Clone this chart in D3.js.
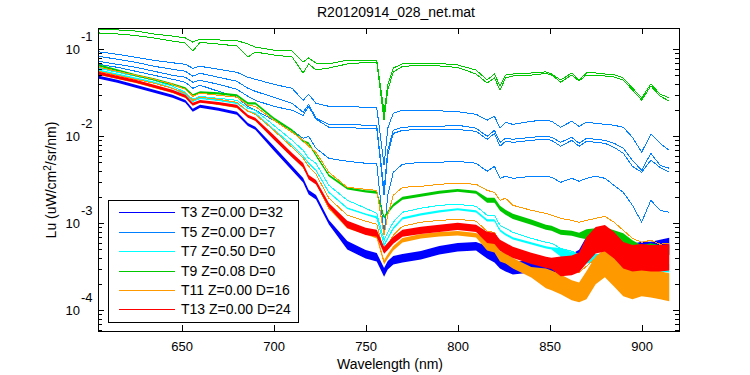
<!DOCTYPE html>
<html>
<head>
<meta charset="utf-8">
<script src="https://cdn.jsdelivr.net/npm/d3@7"></script>
<style>
body { margin: 0; background: #fff; }
svg { font-family: "Liberation Sans", Arial, sans-serif; }
</style>
</head>
<body>
<svg id="chart" width="750" height="375"></svg>
<script>
// wavelength grid (nm)
const wavelength = [605,615,625,635,645,652,656,660,670,680,686,690,700,710,716,719,723,730,740,750,
	756,760,762,765,770,780,790,800,810,816,820,823,826,830,840,848,851,856,862,866,
	870,875,880,885,890,895,900,905,910,915]

// Lu values, one array per visible trace
const t3 = [0.0477,0.0429,0.0376,0.0329,0.0288,0.0252,0.0199,0.0221,0.0204,0.0184,
	0.0137,0.0124,0.00728,0.00429,0.00312,0.00227,0.00199,0.00103,0.000559,0.00044,
	0.000407,0.000273,0.000329,0.000376,0.000396,0.000429,0.00049,0.00053,0.000544,0.000464,
	0.000418,0.000356,0.000329,0.000304,0.00032,0.000304,0.000329,0.000329,0.000356,0.000396,
	0.000559,0.000672,0.000638,0.00049,0.000429,0.000464,0.00049,0.00049,0.000516,0.000544]
const t3Spread = [1.04,1.04,1.04,1.04,1.04,1.04,1.04,1.04,1.04,1.04,1.04,1.04,
	1.06,1.06,1.06,1.06,1.06,1.06,
	1.12,1.12,1.12,1.12,1.12,1.12,1.12,1.12,1.12,1.12,1.12,
	1.18,1.18,1.18,1.18,1.18,1.18,1.18,1.18,
	1.25,1.25,1.25,1.25,1.25,1.25,1.25,1.25,1.25,1.25,1.25,1.25,1.25]

const t5a = [0.0936,0.0876,0.0809,0.0747,0.070,0.0672,0.0605,0.0638,0.0589,0.0544,
	0.0477,0.0452,0.0396,0.0356,0.0259,0.0304,0.0239,0.0221,0.0221,0.0215,
	0.0215,0.00464,0.0124,0.0184,0.0199,0.0199,0.0196,0.0192,0.0179,0.0153,
	0.0170,0.0124,0.0145,0.0137,0.0149,0.0153,0.0149,0.0127,0.0149,0.0130,
	0.0145,0.0141,0.0137,0.0134,0.0127,0.00974,0.00655,0.0106,0.00831,0.0069]
const t5b = [0.0831,0.0768,0.0709,0.0638,0.0589,0.0559,0.049,0.053,0.0477,0.0429,
	0.0356,0.0329,0.0281,0.0239,0.0189,0.0233,0.0161,0.0137,0.0137,0.0134,
	0.0134,0.00239,0.0069,0.0117,0.0127,0.0130,0.0130,0.0134,0.0124,0.0100,
	0.0117,0.00853,0.00948,0.00924,0.00974,0.0100,0.00974,0.00853,0.00974,0.00831,
	0.00948,0.00924,0.0090,0.00831,0.00728,0.0053,0.00407,0.00638,0.00464,0.00429]
const t5c = [0.0728,0.0672,0.0621,0.0559,0.0503,0.0477,0.0418,0.044,0.0396,0.0347,
	0.0288,0.0259,0.0221,0.0199,0.0174,0.0221,0.0157,0.0127,0.0125,0.0124,
	0.0124,0.0021,0.00605,0.0108,0.0117,0.0120,0.0120,0.0120,0.0114,0.00924,
	0.0108,0.00768,0.00876,0.00853,0.0090,0.00924,0.0090,0.00768,0.0090,0.00768,
	0.00876,0.00853,0.00831,0.00747,0.00638,0.00452,0.00386,0.0053,0.0044,0.00386]
const t5d = [0.0672,0.0621,0.0559,0.0503,0.0452,0.0418,0.0356,0.0386,0.0329,0.0281,
	0.0221,0.0199,0.0153,0.0117,0.00948,0.0100,0.00728,0.00559,0.00516,0.0049,
	0.0049,0.000728,0.0021,0.00386,0.00477,0.00503,0.00503,0.00516,0.0049,0.00396,
	0.00452,0.00329,0.00347,0.00329,0.00347,0.00347,0.00338,0.00296,0.00329,0.00304,
	0.00329,0.00347,0.00329,0.00273,0.00227,0.00161,0.00103,0.00184,0.00141,0.00134]

const t7a = [0.0605,0.0544,0.049,0.044,0.0376,0.032,0.0266,0.0288,0.0273,0.0259,
	0.021,0.0199,0.0134,0.009,0.0069,0.00559,0.0049,0.00273,0.00184,0.00149,
	0.0013,0.000638,0.000788,0.00103,0.00134,0.00149,0.00161,0.00165,0.00157,0.00124,
	0.00124,0.000948,0.000876,0.000788,0.000672,0.000605,0.000589,0.000516,0.000477,0.00044,
	0.000429,0.00044,0.000429,0.000396,0.000356,0.000347,0.000356,0.000356,0.000356,0.000347]
const t7b = [0.0574,0.0516,0.0464,0.0418,0.0356,0.0304,0.0252,0.0273,0.0259,0.0239,
	0.0194,0.0184,0.012,0.00788,0.00589,0.0049,0.00407,0.00227,0.00149,0.00127,
	0.00117,0.000559,0.000672,0.000876,0.00114,0.00127,0.00137,0.00145,0.00137,0.00108,
	0.00108,0.000831,0.000747,0.000672,0.000589,0.00053,0.000516,0.000464,0.000418,0.000396,
	0.000386,0.000396,0.000396,0.000356,0.000329,0.000312,0.00032,0.00032,0.000312,0.000304]
const t7bSpread = [1.02,1.02,1.02,1.02,1.02,1.02,1.02,1.02,1.02,1.02,1.02,1.02,1.02,1.02,1.02,1.02,1.02,1.02,1.02,1.02,
	1.03,1.03,1.03,1.03,1.03,1.03,1.03,1.03,1.03,1.03,1.03,1.03,1.03,1.03,1.03,1.03,1.03,
	1.12,1.12,1.12,1.12,1.12,1.12,1.12,1.12,1.12,1.12,1.12,1.12,1.12]

const t9a = [0.171,0.167,0.162,0.150,0.142,0.135,0.121,0.131,0.128,0.126,
	0.115,0.106,0.098,0.0956,0.0715,0.0794,0.0696,0.0678,0.0753,0.0753,
	0.0743,0.019,0.0389,0.061,0.0678,0.0696,0.0687,0.066,0.0578,0.0444,
	0.052,0.0379,0.0506,0.052,0.0534,0.055,0.052,0.0444,0.0534,0.0444,
	0.0534,0.0534,0.052,0.0513,0.0468,0.0359,0.0276,0.0399,0.0306,0.0276]
const t9b = [0.154,0.150,0.144,0.135,0.1245,0.118,0.0956,0.120,0.115,0.109,
	0.0816,0.0931,0.086,0.0816,0.0534,0.0678,0.0578,0.0610,0.0678,0.0705,
	0.0715,0.0154,0.034,0.055,0.0634,0.066,0.0643,0.0618,0.052,0.041,
	0.0468,0.034,0.0468,0.0493,0.0506,0.0527,0.0506,0.042,0.0506,0.0432,
	0.0506,0.0506,0.0493,0.048,0.0444,0.034,0.0261,0.0379,0.029,0.0254]
const t9c = [0.0655,0.0574,0.0503,0.0452,0.0396,0.0356,0.0296,0.032,0.0312,0.0296,
	0.0239,0.0239,0.0161,0.0117,0.0088,0.0083,0.00605,0.00356,0.00252,0.00233,
	0.00227,0.00117,0.00134,0.00161,0.00194,0.0021,0.00227,0.00239,0.00227,0.00184,
	0.00184,0.00149,0.00134,0.0012,0.00103,0.00090,0.000876,0.000788,0.000768,0.000728,
	0.000747,0.000768,0.000788,0.000728,0.000672,0.000559,0.00049,0.000516,0.00049,0.00049]
const t9cSpread = [1.03,1.03,1.03,1.03,1.03,1.03,1.03,1.03,1.03,1.03,1.03,1.03,1.03,1.03,1.03,1.03,1.03,1.03,1.03,1.03,
	1.04,1.04,1.04,1.04,1.04,1.04,1.04,1.04,1.04,
	1.07,1.07,1.07,1.07,1.07,1.07,1.07,1.07,1.07,1.07,1.07,
	1.14,1.14,1.14,1.14,1.14,1.14,1.14,1.14,1.14,1.14]

const t11a = [0.0621,0.0559,0.0503,0.0452,0.0396,0.0347,0.0288,0.0312,0.0296,0.0281,
	0.0227,0.0221,0.0153,0.0111,0.0090,0.00768,0.00655,0.00386,0.00259,0.00246,
	0.00239,0.000728,0.00124,0.0021,0.00259,0.00266,0.00281,0.00288,0.00281,0.00239,
	0.00227,0.00184,0.00194,0.00161,0.00141,0.0013,0.00124,0.00114,0.00108,0.00103,
	0.00108,0.00114,0.0012,0.00103,0.000831,0.000672,0.000605,0.000638,0.000574,0.000589]
const t11b = [0.0559,0.0503,0.0452,0.0407,0.0356,0.0312,0.0259,0.0281,0.0266,0.0246,
	0.0194,0.0179,0.0117,0.00747,0.00559,0.00452,0.00366,0.00194,0.00124,0.00106,
	0.000974,0.000464,0.000559,0.000728,0.000924,0.00103,0.00108,0.00111,0.00106,0.000809,
	0.000788,0.000605,0.000559,0.00049,0.000407,0.000356,0.000338,0.000304,0.000288,0.000273,
	0.00032,0.000396,0.000429,0.000356,0.000304,0.000288,0.00032,0.000304,0.00032,0.000304]
const t11c = [0.0516,0.0464,0.0418,0.0366,0.032,0.0281,0.0233,0.0252,0.0233,0.0215,
	0.017,0.0153,0.00948,0.00589,0.0044,0.00347,0.00288,0.00149,0.000924,0.000788,
	0.000709,0.000356,0.000418,0.000516,0.000638,0.000709,0.000747,0.000768,0.000728,0.000559,
	0.00053,0.000418,0.000396,0.000347,0.000273,0.000233,0.000221,0.000199,0.00017,0.000161,
	0.000194,0.000288,0.000347,0.000273,0.00021,0.000194,0.00021,0.000204,0.000194,0.000184]
const t11cSpread = [1.02,1.02,1.02,1.02,1.02,1.02,1.02,1.02,1.02,1.02,1.02,1.02,1.02,1.02,1.02,1.02,1.02,1.02,
	1.06,1.06,1.06,1.06,1.06,1.06,1.06,1.06,1.06,1.06,1.06,
	1.15,1.15,1.15,1.15,1.15,1.15,
	1.3,1.3,1.3,1.3,1.3,
	1.45,1.45,1.45,1.45,1.45,1.45,1.45,1.45,1.45,1.45]

const t13 = [0.053,0.0477,0.0429,0.0376,0.0329,0.0288,0.0233,0.0252,0.0239,0.0221,
	0.017,0.0157,0.00974,0.00605,0.00464,0.00338,0.00296,0.00161,0.000974,0.000809,
	0.000768,0.00049,0.000544,0.000638,0.000768,0.000831,0.000876,0.000924,0.000876,0.00069,
	0.000672,0.000559,0.000516,0.000464,0.000396,0.000356,0.000347,0.00032,0.000329,0.000356,
	0.00049,0.000638,0.000672,0.000559,0.000429,0.000396,0.000407,0.000396,0.000396,0.000407]
const t13Spread = [1.04,1.04,1.04,1.04,1.04,1.04,1.04,1.04,1.04,1.04,1.04,1.04,
	1.06,1.06,1.06,1.06,1.06,1.06,
	1.1,1.1,1.1,1.1,1.1,1.1,1.1,1.1,1.1,1.1,1.1,
	1.16,1.16,1.16,1.16,1.16,1.16,1.16,1.16,
	1.3,1.3,1.3,
	1.42,1.42,1.42,1.42,1.42,1.42,1.42,1.42,1.42,1.42]

const xTicks = [650, 700, 750, 800, 850, 900]
const yExponents = [-4, -3, -2, -1]

const series = [
	{ label: 'T3 Z=0.00 D=32', color: '#0000ff', lines: [[t3, t3Spread]] },
	{ label: 'T5 Z=0.00 D=7', color: '#0080ff', lines: [[t5a], [t5b], [t5c], [t5d]] },
	{ label: 'T7 Z=0.50 D=0', color: '#00ffff', lines: [[t7a], [t7b, t7bSpread]] },
	{ label: 'T9 Z=0.08 D=0', color: '#00c800', lines: [[t9a], [t9b], [t9c, t9cSpread]] },
	{ label: 'T11 Z=0.00 D=16', color: '#ff9900', lines: [[t11a], [t11b], [t11c, t11cSpread]] },
	{ label: 'T13 Z=0.00 D=24', color: '#ff0000', lines: [[t13, t13Spread]] }
]

const svg = d3.select('#chart')
const L = 98, R = 679, T = 28, B = 331

const x = d3.scaleLinear().domain([604.5, 920.3]).range([L, R])
const y = d3.scaleLog().domain([5.78e-5, 0.1757]).range([B, T])

svg.append('defs').append('clipPath').attr('id', 'plotclip')
	.append('rect').attr('x', L).attr('y', T).attr('width', R - L).attr('height', B - T)

const plot = svg.append('g').attr('clip-path', 'url(#plotclip)')

for (const s of series) {
	for (const [vals, spread] of s.lines) {
		if (spread) {
			const band = d3.area()
				.x((d, i) => x(wavelength[i]))
				.y0((d, i) => y(d / spread[i]))
				.y1((d, i) => y(d * spread[i]))
			plot.append('path').attr('d', band(vals))
				.attr('fill', s.color).attr('stroke', 'none')
		}
		const line = d3.line().x((d, i) => x(wavelength[i])).y(d => y(d))
		plot.append('path').attr('d', line(vals))
			.attr('fill', 'none').attr('stroke', s.color).attr('stroke-width', 1)
			.attr('shape-rendering', 'crispEdges')
	}
}

// axes box and ticks
const axes = svg.append('g').attr('shape-rendering', 'crispEdges')
axes.append('rect').attr('x', L + 0.5).attr('y', T + 0.5).attr('width', R - L).attr('height', B - T)
	.attr('fill', 'none').attr('stroke', '#000')

axes.append('g').attr('transform', `translate(0,${B})`)
	.call(d3.axisBottom(x).tickValues(xTicks).tickSize(-6).tickPadding(11).tickFormat(d3.format('d')))
	.call(g => g.select('.domain').remove())
	.call(g => g.selectAll('text').attr('font-size', 13).attr('fill', '#000').attr('font-family', null))
axes.append('g').attr('transform', `translate(0,${T})`)
	.call(d3.axisTop(x).tickValues(xTicks).tickSize(-6).tickFormat(''))
	.call(g => g.select('.domain').remove())

const majors = yExponents.map(e => Math.pow(10, e))
const minors = []
for (let e = -5; e <= -1; e++) {
	for (let m = 2; m <= 9; m++) {
		const v = m * Math.pow(10, e)
		if (v > y.domain()[0] && v < y.domain()[1]) minors.push(v)
	}
}
for (const [side, pos] of [['L', L], ['R', R]]) {
	const axis = side === 'L' ? d3.axisLeft : d3.axisRight
	axes.append('g').attr('transform', `translate(${pos},0)`)
		.call(axis(y).tickValues(majors).tickSize(-6).tickFormat(''))
		.call(g => g.select('.domain').remove())
	axes.append('g').attr('transform', `translate(${pos},0)`)
		.call(axis(y).tickValues(minors).tickSize(-4).tickFormat(''))
		.call(g => g.select('.domain').remove())
}

const ylab = svg.append('g').attr('font-size', 13)
yExponents.forEach(e => {
	const yy = y(Math.pow(10, e))
	ylab.append('text').attr('x', 80).attr('y', yy).attr('dy', '0.35em')
		.attr('text-anchor', 'end').text('10')
	ylab.append('text').attr('x', 81).attr('y', yy - 13).attr('dy', '0.35em')
		.attr('text-anchor', 'start').text(String(e))
})

svg.append('text').attr('x', 396).attr('y', 17).attr('text-anchor', 'middle')
	.attr('font-size', 14).text('R20120914_028_net.mat')
svg.append('text').attr('x', 390).attr('y', 369).attr('text-anchor', 'middle')
	.attr('font-size', 14).text('Wavelength (nm)')
const yt = svg.append('text').attr('transform', 'translate(56,180) rotate(-90)')
	.attr('text-anchor', 'middle').attr('font-size', 14)
yt.append('tspan').text('Lu (uW/cm')
yt.append('tspan').attr('dy', -5).attr('font-size', 10).text('2')
yt.append('tspan').attr('dy', 5).text('/sr/nm)')

// legend
const leg = svg.append('g')
leg.append('rect').attr('x', 108.5).attr('y', 200.5).attr('width', 190).attr('height', 122)
	.attr('fill', '#fff').attr('stroke', '#000').attr('shape-rendering', 'crispEdges')
series.forEach((s, i) => {
	const yy = Math.round(212.3 + i * 19.4) + 0.5
	leg.append('line').attr('x1', 119).attr('x2', 175).attr('y1', yy).attr('y2', yy)
		.attr('stroke', s.color).attr('stroke-width', 1.2)
	leg.append('text').attr('x', 181).attr('y', yy).attr('dy', '0.35em')
		.attr('font-size', 14).text(s.label)
})
</script>
</body>
</html>
